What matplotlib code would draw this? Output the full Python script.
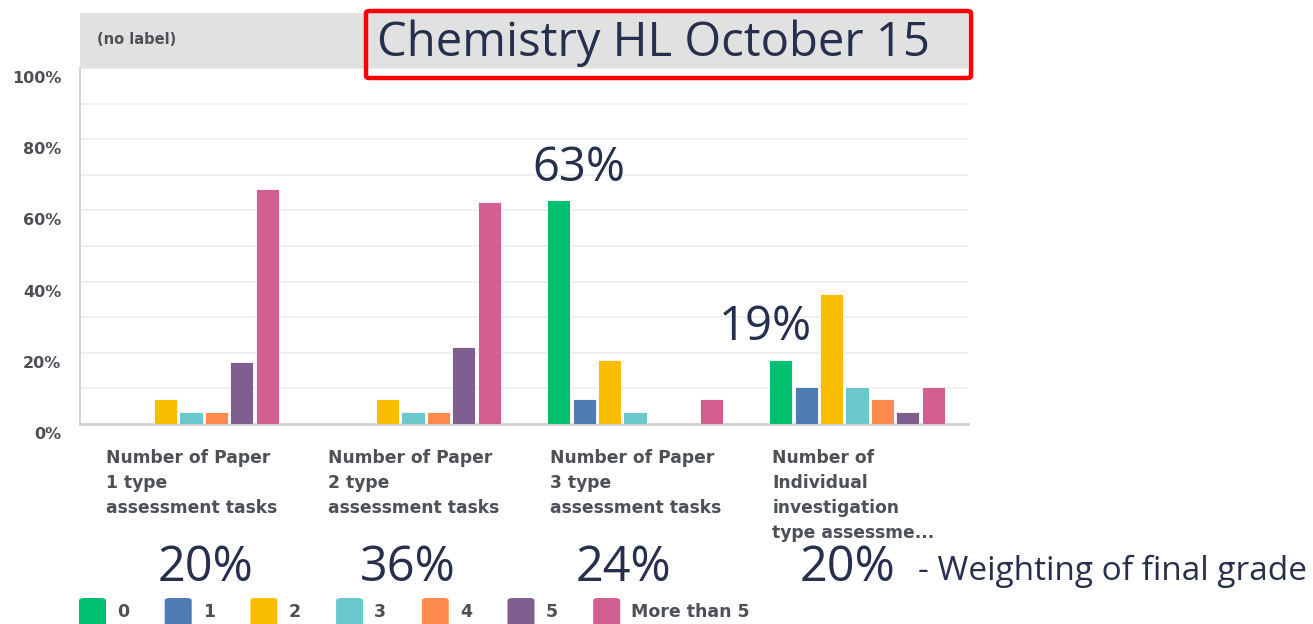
import matplotlib
matplotlib.use("Agg")
import matplotlib.pyplot as plt
import matplotlib.transforms as mtransforms
from matplotlib.patches import Rectangle, FancyBboxPatch
import numpy as np

# answers and categories
answers = ["0", "1", "2", "3", "4", "5", "More than 5"]
colors = ["#00bf6f", "#507cb6", "#f9be00", "#6bc8cd", "#ff8b4f", "#7f5f90", "#d25f90"]
questions = [
    "Number of Paper\n1 type\nassessment tasks",
    "Number of Paper\n2 type\nassessment tasks",
    "Number of Paper\n3 type\nassessment tasks",
    "Number of\nIndividual\ninvestigation\ntype assessme...",
]
# percent of respondents per answer (one list per answer, one value per question)
pct_0 = [0, 0, 63, 18]
pct_1 = [0, 0, 7, 10.5]
pct_2 = [7, 7, 18, 36.5]
pct_3 = [3.5, 3.5, 3.5, 10.5]
pct_4 = [3.5, 3.5, 0, 7]
pct_5 = [17.5, 21.5, 0, 3.5]
pct_more = [66, 62.5, 7, 10.5]
weights = ["20%", "36%", "24%", "20%"]
callouts = {2: "63%", 3: "19%"}  # question index -> highlighted "0" answer

W, H = 1313, 624
fig = plt.figure(figsize=(W / 100, H / 100), dpi=100)
fig.patch.set_facecolor("white")

def fx(x):
    return x / W

def fy(y):
    return 1 - y / H

# plot area: x 80..968, y 68..424 (pixels)
ax = fig.add_axes([fx(80), fy(424), fx(888), (424 - 68) / H])
x = np.arange(len(questions))
step = 0.1145
bw = 0.104
series = [pct_0, pct_1, pct_2, pct_3, pct_4, pct_5, pct_more]
for i, (vals, c) in enumerate(zip(series, colors)):
    ax.bar(x + (i - 3) * step, vals, width=bw, color=c, edgecolor="white",
           linewidth=0.6, zorder=3)

ax.set_xlim(-0.5, 3.5)
ax.set_ylim(0, 100)
for yv in range(10, 101, 10):
    ax.axhline(yv, color="#ececec", lw=1.2, zorder=1)
ax.set_yticks(range(0, 101, 20))
ax.set_yticklabels([f"{v}%" for v in range(0, 101, 20)], fontsize=11.5,
                   fontweight="bold", color="#4d5156", family="DejaVu Sans")
ax.tick_params(axis="y", length=0, pad=15)
ax.tick_params(axis="x", length=0, labelbottom=False)
off = mtransforms.ScaledTranslation(2 / 100, -9 / 100, fig.dpi_scale_trans)
for lab in ax.get_yticklabels():
    lab.set_transform(lab.get_transform() + off)
for s in ["top", "right"]:
    ax.spines[s].set_visible(False)
ax.spines["left"].set_color("#d6d6d6")
ax.spines["left"].set_linewidth(1.5)
ax.spines["bottom"].set_color("#cfcfcf")
ax.spines["bottom"].set_linewidth(2)

# category labels under each group
for i, q in enumerate(questions):
    ax.annotate(q, xy=(x[i] - 3 * step - bw / 2, 0), xycoords="data",
                xytext=(3, -25), textcoords="offset pixels", ha="left", va="top",
                fontsize=12.3, fontweight="bold", color="#4d5156",
                family="DejaVu Sans", linespacing=1.5)

# header band
fig.patches.append(Rectangle((fx(80), fy(68)), fx(888), (68 - 13) / H,
                             transform=fig.transFigure, facecolor="#e1e1e1",
                             edgecolor="none", zorder=0))
fig.text(fx(97), fy(40), "(no label)", fontsize=10.5, fontweight="bold",
         color="#4d5156", va="center", ha="left", family="DejaVu Sans")

navy = "#262f4b"
big = ["Source Sans Pro", "Open Sans", "DejaVu Sans"]
fig.text(fx(377), fy(56), "Chemistry HL October 15", fontsize=34, color=navy,
         va="baseline", ha="left", family=big)
fig.patches.append(FancyBboxPatch((fx(366), fy(78)), fx(605), (78 - 11) / H,
                                  boxstyle="round,pad=0,rounding_size=0.003",
                                  transform=fig.transFigure, facecolor="none",
                                  edgecolor="#ff0000", linewidth=3.2, zorder=5))

# callouts near the "0" bars (pixel nudges)
callout_nudge = {2: (20, 12), 3: (-15, 11)}
for qi, txt in callouts.items():
    dx, dy = callout_nudge[qi]
    ax.annotate(txt, xy=(x[qi] - 3 * step, series[0][qi]), xycoords="data",
                xytext=(dx, 20 - dy), textcoords="offset pixels", ha="center",
                va="bottom", fontsize=34, color=navy, family=big)

# weighting row
weight_px = [205, 408, 623, 848]
for wt, xp in zip(weights, weight_px):
    fig.text(fx(xp), fy(568), wt, fontsize=35, color=navy, ha="center",
             va="center", family=big)
fig.text(fx(918), fy(571), "- Weighting of final grade", fontsize=24,
         color=navy, ha="left", va="center", family=big)

# legend along the bottom (clipped by the figure edge)
for i, (name, c) in enumerate(zip(answers, colors)):
    x0 = 79 + i * 85.7
    fig.patches.append(FancyBboxPatch((fx(x0), fy(632)), fx(27), 34 / H,
                                      boxstyle="round,pad=0,rounding_size=0.004",
                                      transform=fig.transFigure, facecolor=c,
                                      edgecolor="none"))
    fig.text(fx(x0 + 38), fy(612), name, fontsize=12.5, fontweight="bold",
             color="#4d5156", ha="left", va="center", family="DejaVu Sans")

fig.savefig("out.png", dpi=100)
